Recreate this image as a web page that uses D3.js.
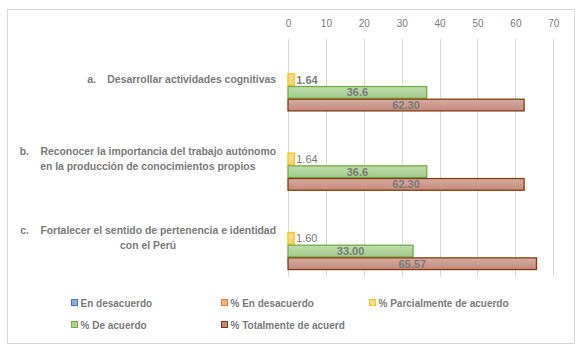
<!DOCTYPE html>
<html>
<head>
<meta charset="utf-8">
<script src="https://cdn.jsdelivr.net/npm/d3@7"></script>
<style>
    body { margin: 0; background: #fff; }
    svg { font-family: "Liberation Sans", Arial, sans-serif; }
    .catLabel { white-space: pre; }
</style>
</head>
<body>
<svg id="chart" width="583" height="352"></svg>
<script>
// categories (each entry = lines of the label)
const categories = [
    ['a.    Desarrollar actividades cognitivas'],
    ['b.    Reconocer la importancia del trabajo autónomo', 'en la producción de conocimientos propios'],
    ['c.    Fortalecer el sentido de pertenencia e identidad', 'con el Perú']
];
const catKeys = ['a', 'b', 'c'];

// series values
const enDesacuerdo = [null, null, null];
const pctEnDesacuerdo = [null, null, null];
const pctParcial = [1.64, 1.64, 1.60];
const pctDeAcuerdo = [36.6, 36.6, 33.00];
const pctTotalmente = [62.30, 62.30, 65.57];

// data label texts as shown
const parcialLabels = ['1.64', '1.64', '1.60'];
const deAcuerdoLabels = ['36.6', '36.6', '33.00'];
const totalmenteLabels = ['62.30', '62.30', '65.57'];

const seriesNames = ['En desacuerdo', '% En desacuerdo', '% Parcialmente de acuerdo', '% De acuerdo', '% Totalmente de acuerd'];
const tickVals = [0, 10, 20, 30, 40, 50, 60, 70];

const series = [
    {name: seriesNames[0], values: enDesacuerdo, labels: null, fill: '#8faadc', stroke: '#4472c4', grad: ['#a9bfe6', '#8faadc']},
    {name: seriesNames[1], values: pctEnDesacuerdo, labels: null, fill: '#f4b183', stroke: '#ed7d31', grad: ['#f8c6a4', '#f4b183']},
    {name: seriesNames[2], values: pctParcial, labels: parcialLabels, fill: '#ffd98a', stroke: '#ffc000', grad: ['#ffe0a0', '#ffd27a'], pos: 'outside'},
    {name: seriesNames[3], values: pctDeAcuerdo, labels: deAcuerdoLabels, fill: '#a9d18e', stroke: '#70ad47', grad: ['#bcdcab', '#a3cb8a'], pos: 'center'},
    {name: seriesNames[4], values: pctTotalmente, labels: totalmenteLabels, fill: '#c5897a', stroke: '#843c0c', grad: ['#d6aca1', '#c38a7d'], pos: 'center'}
];

const svg = d3.select('#chart');
const textGray = '#7a7a7a';

// outer frame
svg.append('rect')
    .attr('x', 7.5).attr('y', 9.5)
    .attr('width', 567).attr('height', 334)
    .attr('fill', '#fff')
    .attr('stroke', '#d9d9d9');

// gradients
const defs = svg.append('defs');
series.forEach((s, i) => {
    let g = defs.append('linearGradient')
        .attr('id', 'grad' + i)
        .attr('x1', 0).attr('y1', 0).attr('x2', 0).attr('y2', 1);
    g.append('stop').attr('offset', '0%').attr('stop-color', s.grad[0]);
    g.append('stop').attr('offset', '100%').attr('stop-color', s.grad[1]);
});

//scales
const x = d3.scaleLinear()
    .domain([0, 70])
    .range([288, 553.3]);

const y = d3.scaleBand()
    .domain(catKeys)
    .range([40, 278])
    .paddingInner(0.2)
    .paddingOuter(0.1);

const ySeries = d3.scaleBand()
    .domain(d3.range(series.length))
    .range([0, y.bandwidth()]);

//gridlines
svg.append('g')
    .selectAll('line')
    .data(tickVals)
    .join('line')
    .attr('x1', d => Math.round(x(d)) + 0.5)
    .attr('x2', d => Math.round(x(d)) + 0.5)
    .attr('y1', 39)
    .attr('y2', 277)
    .attr('stroke', '#d9d9d9');

//top axis
const axis = d3.axisTop(x)
    .tickValues(tickVals)
    .tickSize(0)
    .tickPadding(0);

const axisG = svg.append('g')
    .attr('transform', 'translate(0, 27)')
    .call(axis);
axisG.select('.domain').remove();
axisG.selectAll('text')
    .attr('fill', textGray)
    .attr('font-size', '10px')
    .attr('font-family', '"Liberation Sans", Arial, sans-serif');

//bars
series.forEach((s, si) => {
    let g = svg.append('g');
    let rows = s.values.map((v, i) => ({v: v, cat: catKeys[i], label: s.labels ? s.labels[i] : null, i: i}))
        .filter(d => d.v !== null);

    g.selectAll('rect')
        .data(rows)
        .join('rect')
        .attr('x', x(0))
        .attr('y', d => y(d.cat) + ySeries(si) + 0.5)
        .attr('width', d => x(d.v) - x(0))
        .attr('height', ySeries.bandwidth() - 1)
        .attr('fill', 'url(#grad' + si + ')')
        .attr('stroke', s.stroke)
        .attr('stroke-width', 1.3);

    g.selectAll('text')
        .data(rows)
        .join('text')
        .attr('x', d => s.pos === 'outside' ? x(d.v) + 2 : (x(0) + x(d.v)) / 2)
        .attr('y', d => y(d.cat) + ySeries(si) + ySeries.bandwidth() / 2)
        .attr('dy', '0.35em')
        .attr('text-anchor', s.pos === 'outside' ? 'start' : 'middle')
        .attr('font-size', '11px')
        .attr('font-weight', d => (s.pos === 'outside' && d.i > 0) ? 'normal' : 'bold')
        .attr('fill', textGray)
        .text(d => d.label);
});

//category labels
const labelRight = 276;
const lineH = 15;
categories.forEach((lines, i) => {
    let t = svg.append('text')
        .attr('class', 'catLabel')
        .attr('font-size', '10.4px')
        .attr('font-weight', 'bold')
        .attr('fill', textGray)
        .attr('text-anchor', 'middle');
    let cy = y(catKeys[i]) + y.bandwidth() / 2 - (lines.length - 1) * lineH / 2;
    lines.forEach((l, j) => {
        t.append('tspan')
            .attr('y', cy + j * lineH)
            .attr('dy', '0.35em')
            .text(l);
    });
    let maxW = d3.max(t.selectAll('tspan').nodes(), n => n.getComputedTextLength());
    t.selectAll('tspan').attr('x', labelRight - maxW / 2);
});

//legend
const legendCols = [71, 221, 369];
const legendRows = [303, 325];
const legend = svg.append('g')
    .selectAll('g')
    .data(series)
    .join('g')
    .attr('transform', (d, i) => `translate(${legendCols[i % 3]}, ${legendRows[Math.floor(i / 3)]})`);

legend.append('rect')
    .attr('x', 0.5).attr('y', -3.5)
    .attr('width', 6).attr('height', 6)
    .attr('fill', d => d.fill)
    .attr('stroke', d => d.stroke);

legend.append('text')
    .attr('x', 9.5)
    .attr('dy', '0.35em')
    .attr('font-size', '10px')
    .attr('font-weight', 'bold')
    .attr('fill', textGray)
    .text(d => d.name);
</script>
</body>
</html>
